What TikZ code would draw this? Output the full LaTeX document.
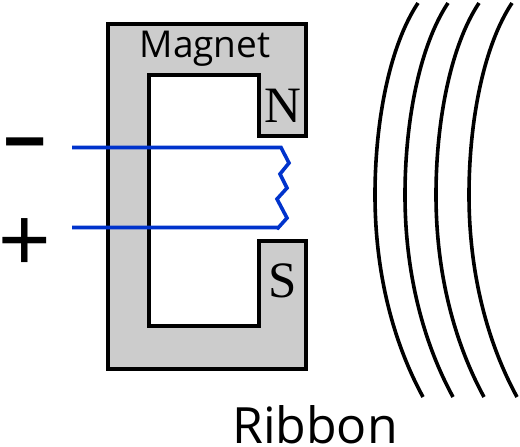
\documentclass[tikz,border=0pt]{standalone}
\usepackage{fontspec}
\setmainfont{Open Sans}
\newfontfamily\serifface{Liberation Serif}
\newfontfamily\signface{Liberation Sans}
\definecolor{magnetgray}{RGB}{204,204,204}
\definecolor{wireblue}{RGB}{0,51,204}
\tikzset{
  magnetbody/.style={draw=black,fill=magnetgray,line width=3.2pt,line join=miter},
  wire/.style={draw=wireblue,line width=3.6pt,line join=miter},
  ribbonline/.style={draw=black,line width=3.6pt},
  labeltext/.style={inner sep=0pt,text=black,anchor=center},
}
\begin{document}
\begin{tikzpicture}[x=1pt,y=-1pt]
\useasboundingbox (0,0) rectangle (520,447);
\path[magnetbody] (108,24) -- (306,24) -- (306,136) -- (259,136) -- (259,75) -- (149,75) -- (149,326) -- (259,326) -- (259,241) -- (306,241) -- (306,369) -- (108,369) -- cycle;
\node[labeltext] (magnet) at (205,49) {\fontsize{37}{40}\selectfont Magnet};
\node[labeltext] (north) at (283,106) {\serifface\fontsize{51}{54}\selectfont N};
\node[labeltext] (south) at (283,281) {\serifface\fontsize{51}{54}\selectfont S};
\node[labeltext] (ribbon) at (315,425) {\fontsize{50}{52}\selectfont Ribbon};
\node[labeltext] (minus) at (25,152) {\signface\bfseries\fontsize{74}{76}\selectfont −};
\node[labeltext] (plus) at (25,245) {\signface\fontsize{90}{92}\selectfont +};
\coordinate (wa) at (72,147.5);
\coordinate (wb) at (72,227.5);
\path[wire] (wa) -- (281,147.5) -- (289,163) -- (280,174) -- (287,188) -- (277,199) -- (287,218) -- (278,228) -- (277,227.5) -- (wb);
\foreach \dx in {0,30,61,94}{
  \path[ribbonline] (418+\dx,3) .. controls (390+\dx,45) and (375+\dx,120) .. (375+\dx,195) .. controls (375+\dx,270) and (392+\dx,340) .. (423+\dx,397);
}
\end{tikzpicture}
\end{document}
